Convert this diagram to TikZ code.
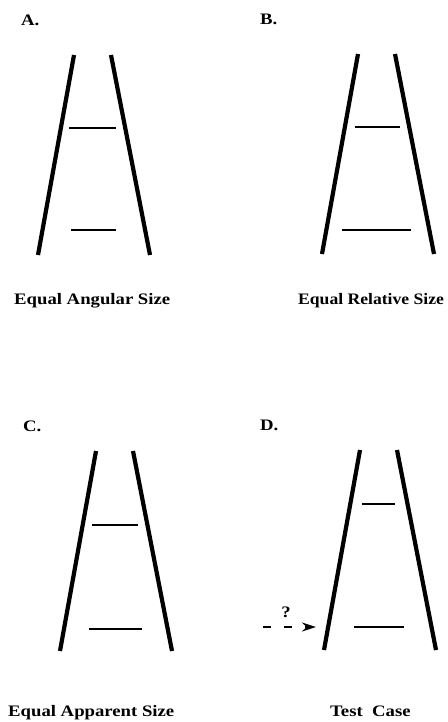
\documentclass[tikz,border=0pt]{standalone}
\usepackage{fontspec}
\setmainfont{Liberation Serif}
\usepackage{graphicx}
\usetikzlibrary{arrows.meta,positioning}
% scanned lettering is wider than the font
\newcommand{\widetxt}[2][1.17]{\scalebox{#1}[1]{#2}}

\begin{document}
\begin{tikzpicture}[>={Stealth[length=14pt,width=9pt]},x=1pt,y=-1pt,
  font=\fontsize{16}{18}\selectfont\bfseries,
  rail/.style={line width=4.2pt},
  rung/.style={line width=1.8pt},
  tag/.style={anchor=base west,inner sep=0pt},
  probe/.style={->,line width=1.5pt,dash pattern=on 8pt off 13pt}]
\useasboundingbox (0,0) rectangle (447,722);
% panel letters
\node[tag] (ta) at (21,26) {\widetxt{A.}};
\node[tag] (tb) at (260,25) {\widetxt{B.}};
\node[tag] (tc) at (23,431) {\widetxt{C.}};
\node[tag] (td) at (260,430) {\widetxt{D.}};
% the two rails of each ladder
\foreach \px/\py in {74/55,358/54,96/451,360/450} {
  \draw[rail] (\px,\py) -- ++(-36,200);
  \draw[rail] (\px+37,\py) -- ++(39,200);
}
% rungs
\draw[rung] (69,128) -- (116,128);
\draw[rung] (71,230) -- (116,230);
\draw[rung] (355,127) -- (400,127);
\draw[rung] (342,230) -- (411,230);
\draw[rung] (92,525) -- (138,525);
\draw[rung] (89,629) -- (142,629);
\draw[rung] (362,504) -- (395,504);
\draw[rung] (354,627) -- (404,627);
% test probe
\coordinate (p0) at (263,627);
\coordinate (p1) at (316,627);
\coordinate (pm) at (286,627);
\draw[probe] (p0) -- (p1);
\node[inner sep=0pt,above=9pt of pm] (qm) {\widetxt{?}};
% captions
\node[tag] (ca) at (14,304) {\widetxt{Equal Angular Size}};
\node[tag] (cb) at (298,304) {\widetxt[1.1]{Equal Relative Size}};
\node[tag] (cc) at (8,716) {\widetxt{Equal Apparent Size}};
\node[tag] (cd) at (330,716) {\widetxt{Test\ \ Case}};
\end{tikzpicture}
\end{document}
